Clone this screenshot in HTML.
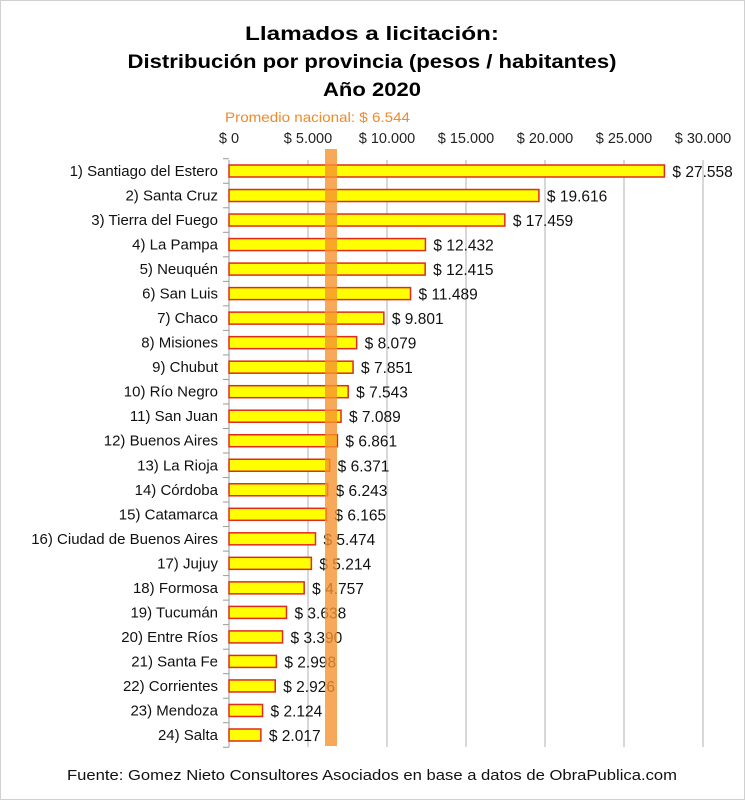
<!DOCTYPE html>
<html><head><meta charset="utf-8"><style>
html,body{margin:0;padding:0;background:#fff}
svg{display:block;font-family:"Liberation Sans",sans-serif}
</style></head><body>
<svg width="745" height="800" viewBox="0 0 745 800">
<rect x="0.5" y="0.5" width="744" height="799" fill="#fff" stroke="#d0d0d0"/>
<g font-weight="bold" font-size="19" text-anchor="middle" fill="#000">
<text x="372" y="40" textLength="254" lengthAdjust="spacingAndGlyphs">Llamados a licitación:</text>
<text x="372" y="68" textLength="489" lengthAdjust="spacingAndGlyphs">Distribución por provincia (pesos / habitantes)</text>
<text x="372" y="96" textLength="98" lengthAdjust="spacingAndGlyphs">Año 2020</text>
</g>
<text x="225" y="122" font-size="14" fill="#f08a2a" textLength="185" lengthAdjust="spacingAndGlyphs">Promedio nacional: $ 6.544</text>
<g id="grid" stroke="#b0b0b0" stroke-width="1"></g>
<g id="ax" font-size="14.5" fill="#222" text-anchor="middle"></g>
<g id="bars"></g>
<rect x="325" y="149" width="12" height="597" fill="#f5922e" opacity="0.8"/>
<text x="372" y="780" font-size="14.5" text-anchor="middle" fill="#111" textLength="610" lengthAdjust="spacingAndGlyphs">Fuente: Gomez Nieto Consultores Asociados en base a datos de ObraPublica.com</text>
</svg>
<script>
var ns="http://www.w3.org/2000/svg";
function el(p,t,a,txt){var e=document.createElementNS(ns,t);for(var k in a)e.setAttribute(k,a[k]);if(txt!=null)e.textContent=txt;document.getElementById(p).appendChild(e);return e;}
var x0=229,sc=79/5000;
var labs=["$ 0","$ 5.000","$ 10.000","$ 15.000","$ 20.000","$ 25.000","$ 30.000"];
for(var i=0;i<=6;i++){var x=x0+i*5000*sc;
 if(i>0)el("grid","line",{x1:x,y1:160,x2:x,y2:747});
 el("ax","text",{x:x,y:143},labs[i]);}
el("grid","line",{x1:x0,y1:160,x2:x0,y2:747,stroke:"#999"});
var d=[["1) Santiago del Estero",27558],["2) Santa Cruz",19616],["3) Tierra del Fuego",17459],["4) La Pampa",12432],["5) Neuquén",12415],["6) San Luis",11489],["7) Chaco",9801],["8) Misiones",8079],["9) Chubut",7851],["10) Río Negro",7543],["11) San Juan",7089],["12) Buenos Aires",6861],["13) La Rioja",6371],["14) Córdoba",6243],["15) Catamarca",6165],["16) Ciudad de Buenos Aires",5474],["17) Jujuy",5214],["18) Formosa",4757],["19) Tucumán",3638],["20) Entre Ríos",3390],["21) Santa Fe",2998],["22) Corrientes",2926],["23) Mendoza",2124],["24) Salta",2017]];
var step=(735-171)/23;
for(var j=0;j<=24;j++){var yb=171-step/2+j*step;el("grid","line",{x1:x0-6,y1:yb,x2:x0,y2:yb,stroke:"#999"});}
d.forEach(function(r,i){var y=171+i*step,w=r[1]*sc;
 el("bars","rect",{x:x0,y:y-6,width:w,height:12,fill:"#ffff00",stroke:"#e02a1a","stroke-width":1.5});
 el("bars","text",{x:x0-11,y:y+5,"font-size":15,"text-anchor":"end",fill:"#111"},r[0]);
 var v="$ "+r[1].toLocaleString("de-DE");
 el("bars","text",{x:x0+w+8,y:y+6,"font-size":15.5,fill:"#111"},v);
});
</script>
</body></html>
